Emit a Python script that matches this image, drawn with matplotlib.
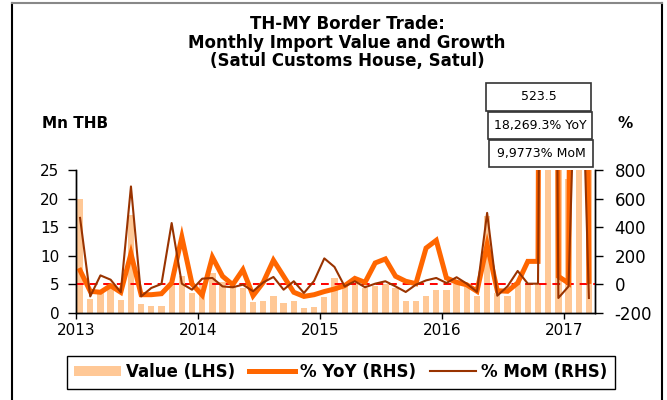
import numpy as np
import matplotlib
matplotlib.use("Agg")
from matplotlib import pyplot as plt
from matplotlib.patches import Rectangle, Patch
from matplotlib.lines import Line2D

# monthly data, Jan 2013 .. Mar 2017
value = [19.9, 2.4, 3.7, 4.4, 2.2, 17.2, 1.6, 1.2, 1.2, 5.0, 6.4, 3.5,
         4.9, 7.0, 5.5, 4.7, 4.4, 1.9, 2.1, 3.0, 1.75, 2.1, 0.8, 1.0,
         2.85, 6.1, 4.95, 5.2, 4.4, 4.8, 5.0, 4.4, 2.15, 2.15, 2.9, 4.1,
         4.1, 5.0, 4.6, 2.9, 17.0, 3.5, 2.9, 5.5, 5.3, 5.2, 523.5, 27.0,
         23.5, 580.0, 29.0]
yoy = [98, -48, -55, -9, -55, 215, -72, -72, -65, 10, 331, 3,
       -75, 191, 57, -2, 103, -79, 14, 169, 57, -55, -84, -72,
       -50, -32, -9, 42, 14, 150, 178, 57, 22, 5, 254, 308,
       45, 15, -3, -48, 278, -44, -48, 10, 161, 161, 18269.3, 56,
       9, 11500, 21]
mom = [465, -84, 63, 33, -55, 685, -84, -25, 3, 429, 5, -37,
       40, 45, -14, -20, -2, -48, 14, 52, -37, 22, -60, 25,
       182, 122, -14, 22, -20, 5, 22, -14, -53, -2, 28, 45,
       10, 50, 5, -52, 500, -79, -14, 94, 5, 5, 9977, -95,
       -14, 2400, -95]
years = ["2013", "2014", "2015", "2016", "2017"]
box_labels = ["523.5", "18,269.3% YoY", "9,9773% MoM"]

W, H = 667, 400
plt.rcParams['font.family'] = 'DejaVu Sans'
plt.rcParams['axes.unicode_minus'] = False
fig = plt.figure(figsize=(W / 100, H / 100), dpi=100)

ax = fig.add_axes([76 / W, 1 - 313 / H, (595 - 76) / W, (313 - 170) / H])
ax2 = ax.twinx()

x = np.arange(len(value)) + 0.4
ax.bar(x, value, width=0.62, color='#FFC896', zorder=1)
ax.set_ylim(0, 25)
ax.set_xlim(0, 51)
ax.set_yticks([0, 5, 10, 15, 20, 25])
ax.set_xticks([0, 12, 24, 36, 48])
ax.set_xticklabels(years)

ax2.axhline(0, color='red', lw=1.4, ls=(0, (4, 3)), zorder=1)
ax2.plot(x, yoy, color='#FF6600', lw=3.6, solid_joinstyle='miter', zorder=2)
ax2.plot(x, mom, color='#993300', lw=1.5, zorder=3)
ax2.set_ylim(-200, 800)
ax2.set_yticks([-200, 0, 200, 400, 600, 800])

for a in (ax, ax2):
    a.spines['top'].set_visible(False)
    for s in a.spines.values():
        s.set_linewidth(1.0)
ax.tick_params(axis='y', direction='out', length=6, width=1, pad=6, labelsize=11)
ax.tick_params(axis='x', direction='out', length=4, width=1, pad=3, labelsize=11)
ax2.tick_params(axis='y', direction='out', length=6, width=1, pad=8, labelsize=12)

fig.text(347 / W, 1 - 15 / H,
         "TH-MY Border Trade:\nMonthly Import Value and Growth\n(Satul Customs House, Satul)",
         ha='center', va='top', fontsize=12, fontweight='bold', linespacing=1.05)
fig.text(75 / W, 1 - 124 / H, "Mn THB", ha='center', va='center', fontsize=11, fontweight='bold')
fig.text(625 / W, 1 - 123 / H, "%", ha='center', va='center', fontsize=11, fontweight='bold')

# value callout boxes
boxes = [(486, 83, 105, 28), (488, 112, 104, 27), (489, 140, 104, 27)]
for (bx, by, bw, bh), lab in zip(boxes, box_labels):
    fig.add_artist(Rectangle((bx / W, 1 - (by + bh) / H), bw / W, bh / H,
                             transform=fig.transFigure, facecolor='white',
                             edgecolor='#333333', lw=1.2))
    fig.text((bx + bw / 2) / W, 1 - (by + bh / 2) / H, lab, ha='center', va='center', fontsize=9)

handles = [Patch(facecolor='#FFC896', edgecolor='none'),
           Line2D([], [], color='#FF6600', lw=3.6),
           Line2D([], [], color='#993300', lw=1.5)]
leg = fig.legend(handles, ["Value (LHS)", "% YoY (RHS)", "% MoM (RHS)"],
                 loc='center', bbox_to_anchor=(341 / W, 1 - 372 / H), ncol=3,
                 fancybox=False, edgecolor='black', framealpha=1,
                 prop={'weight': 'bold', 'size': 12}, handlelength=2.8,
                 handleheight=0.6, handletextpad=0.3, columnspacing=0.8,
                 borderpad=0.45, borderaxespad=0)
leg.get_frame().set_linewidth(1.0)

# outer frame
fig.add_artist(Line2D([12 / W, 12 / W], [0, 1 - 3 / H], transform=fig.transFigure, color='black', lw=1.5))
fig.add_artist(Line2D([662 / W, 662 / W], [0, 1 - 3 / H], transform=fig.transFigure, color='black', lw=1.5))
fig.add_artist(Line2D([12 / W, 662 / W], [1 - 3 / H, 1 - 3 / H], transform=fig.transFigure, color='#888888', lw=1.5))

fig.savefig("out.png", dpi=100)
